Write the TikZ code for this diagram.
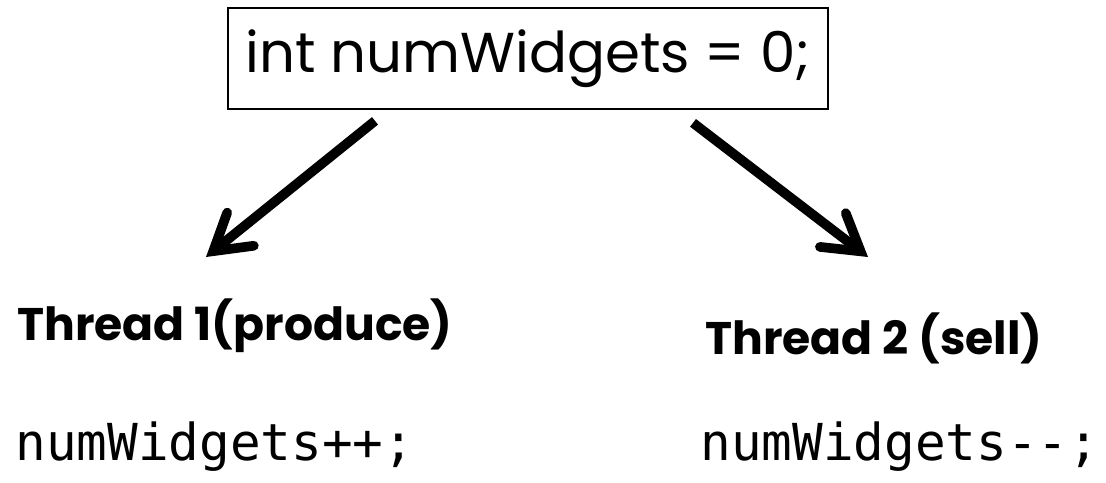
\documentclass[tikz,border=0pt]{standalone}
\usepackage{fontspec}
\setmainfont{Poppins}
\newfontfamily\codefont{DejaVu Sans Mono}
\usetikzlibrary{arrows.meta,positioning}
\tikzset{
  declbox/.style={draw, line width=1pt, font=\fontsize{32}{38}\selectfont,
                  minimum width=12cm, minimum height=2.02cm},
  thread/.style={font=\fontsize{26}{31}\selectfont\bfseries, anchor=base west, inner sep=0pt},
  code/.style={font=\fontsize{29}{35}\selectfont\codefont, anchor=base west, inner sep=0pt},
  bigarrow/.style={line width=5.5pt,
                   -{Straight Barb[length=7mm, width=8.5mm, line cap=round]}},
}

\begin{document}
\begin{tikzpicture}
\useasboundingbox (0,0) rectangle (22.12,9.64);

% --- shared counter ---
\node[declbox] (init) at (10.56,8.47) {int numWidgets = 0;};

% --- the two threads ---
\node[thread] (t1) at (0.34,2.84) {Thread 1(produce)};
\node[thread] (t2) at (14.1,2.56) {Thread 2 (sell)};

\node[code] (c1) at (0.3,0.44) {numWidgets++;};
\node[code] (c2) at (14.0,0.44) {numWidgets-{}-;};

% arrows
\coordinate (tip1) at (4.12,4.5);
\coordinate (tip2) at (17.36,4.5);
\draw[bigarrow] ([shift={(-3.06,-0.22)}]init.south) -- (tip1);
\draw[bigarrow] ([shift={(3.3,-0.26)}]init.south) -- (tip2);

\end{tikzpicture}
\end{document}
